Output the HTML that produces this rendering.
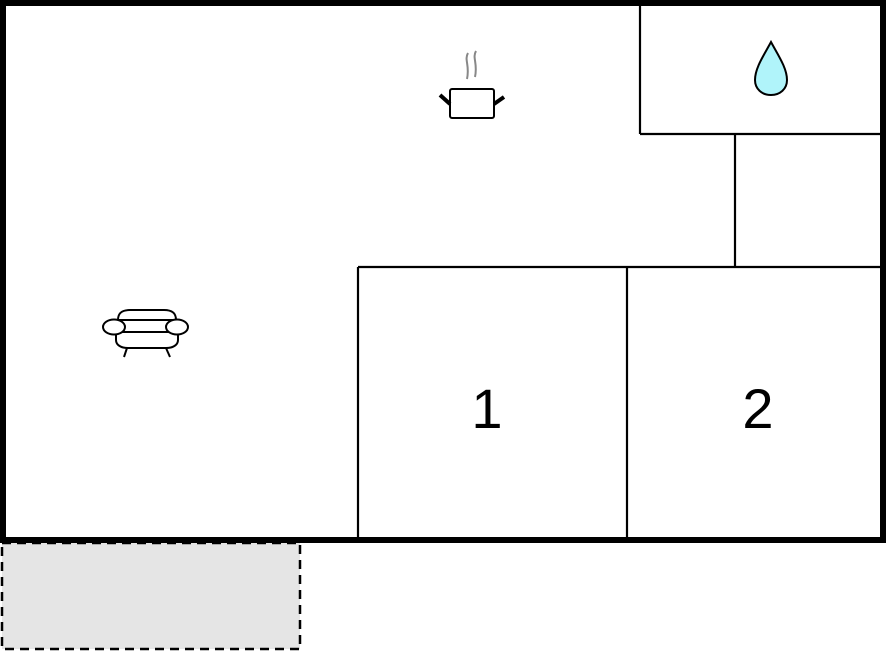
<!DOCTYPE html>
<html><head><meta charset="utf-8"><style>
html,body{margin:0;padding:0;background:#fff;width:886px;height:652px;overflow:hidden}
svg{display:block}
</style></head><body>
<svg width="886" height="652" viewBox="0 0 886 652" xmlns="http://www.w3.org/2000/svg">
<rect x="0" y="0" width="886" height="652" fill="#fff"/>
<rect x="2" y="543" width="298" height="106" fill="#e5e5e5" stroke="#000" stroke-width="2.5" stroke-dasharray="9,6"/>
<g stroke="#000" stroke-width="2.2" fill="none">
<line x1="358" y1="267" x2="883" y2="267"/>
<line x1="358" y1="267" x2="358" y2="540"/>
<line x1="627" y1="267" x2="627" y2="540"/>
<line x1="640" y1="3" x2="640" y2="134"/>
<line x1="640" y1="134" x2="883" y2="134"/>
<line x1="735" y1="134" x2="735" y2="267"/>
</g>
<rect x="3" y="3" width="880" height="537" fill="none" stroke="#000" stroke-width="6"/>
<text x="487" y="428" font-family="Liberation Sans, sans-serif" font-size="56" text-anchor="middle" fill="#000">1</text>
<text x="758" y="428" font-family="Liberation Sans, sans-serif" font-size="56" text-anchor="middle" fill="#000">2</text>
<path d="M771,42 C778,55 787,68 787,80 C787,89 780,95 771,95 C762,95 755,89 755,80 C755,68 764,55 771,42 Z" fill="#b0f4fa" stroke="#000" stroke-width="2"/>
<g fill="none">
<path d="M468,53 C464,60 470,65 467,79" stroke="#888" stroke-width="2"/>
<path d="M476,51 C472,58 478,63 475,77" stroke="#888" stroke-width="2"/>
<rect x="450" y="89" width="44" height="29" rx="2" stroke="#000" stroke-width="2"/>
<line x1="440" y1="95" x2="450" y2="104" stroke="#000" stroke-width="4"/>
<line x1="504" y1="97" x2="494" y2="104" stroke="#000" stroke-width="4"/>
</g>
<g fill="#fff" stroke="#000" stroke-width="2">
<path d="M118,320 C118,313 122,310 130,310 L164,310 C172,310 176,313 176,320 Z"/>
<path d="M116,332 L116,340 C116,345 121,348 128,348 L166,348 C173,348 178,345 178,340 L178,332 Z"/>
<line x1="120" y1="332" x2="174" y2="332"/>
<ellipse cx="114" cy="327" rx="11" ry="7.5"/>
<ellipse cx="177" cy="327" rx="11" ry="7.5"/>
<line x1="127" y1="348" x2="124" y2="357"/>
<line x1="166" y1="348" x2="170" y2="357"/>
</g>
</svg>
</body></html>
